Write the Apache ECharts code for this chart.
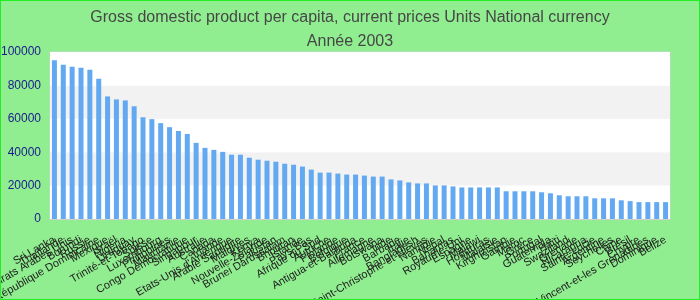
<!DOCTYPE html>
<html>
<head>
<meta charset="utf-8">
<script src="https://cdn.jsdelivr.net/npm/echarts@6/dist/echarts.min.js"></script>
<style>
html,body{margin:0;padding:0;background:#90ee90;}
#chart{width:700px;height:300px;box-sizing:border-box;border:1px solid #22ee22;}
</style>
</head>
<body>
<div id="chart"></div>
<script>
const titleText = "Gross domestic product per capita, current prices Units National currency";
const subTitleText = "Année 2003";
const categories = [
  "Sri Lanka","Thaïlande","Emirats Arabes Unis","Burundi","Russie","République Dominicaine","Mexique","Israël","Nigeria","Uruguay",
  "Trinité-et-Tobago","Suisse","Luxembourg","Philippines","Mauritanie","Congo Démocratique","Singapour","Australie","Canada","Irlande",
  "Etats-Unis d'Amérique","Arabie Saoudite","Maldives","Kenya","Nouvelle-Zélande","Pakistan","Brunei Darussalam","Bhoutan","Islande","Pays-Bas",
  "Afrique du Sud","Autriche","Finlande","Belgique","Antigua-et-Barbuda","France","Allemagne","Botswana","Inde","Barbade",
  "Italie","Bangladesh","Saint-Christophe-et-Niévès","Namibie","Népal","Bahamas","Royaume-Uni","Espagne","Malawi","Honduras",
  "Malaisie","Kirghizistan","Gambie","Maroc","Grèce","Portugal","Guatemala","Haïti","Swaziland","Grenade",
  "Nicaragua","Sainte-Lucie","Argentine","Seychelles","Chine","Brésil","Chypre","Saint-Vincent-et-les Grenadines","Dominique","Belize"
];
const gdpValues = [
  95000,92300,91100,90500,89300,84000,73400,71600,71000,67500,
  60900,59800,57400,55000,52700,50900,45600,42600,41400,40200,
  38500,38500,36700,35500,34900,34300,33100,32500,31400,29600,
  27800,27800,27200,26600,26600,26000,25400,25400,23700,23100,
  21900,21300,21300,20100,20100,19500,18900,18900,18900,18900,
  18900,16600,16600,16600,16600,16000,15400,14200,13600,13600,
  13600,12400,12400,12400,11200,10700,10100,10100,10100,10100
];
const yTicks = [0,20000,40000,60000,80000,100000];

const chart = echarts.init(document.getElementById('chart'), null, {renderer:'canvas'});
chart.setOption({
  animation:false,
  backgroundColor:'#90ee90',
  title:{
    text: titleText + "\n" + subTitleText,
    left:'center', top:0,
    textStyle:{fontFamily:'Liberation Sans, Arial, sans-serif',fontSize:16,fontWeight:'normal',color:'#464646',lineHeight:24}
  },
  grid:{left:49,right:29,top:51,bottom:80,show:true,backgroundColor:'#ffffff',borderColor:'#d0d0d0',borderWidth:1,containLabel:false,outerBoundsMode:'none'},
  xAxis:{
    type:'category',data:categories,
    axisTick:{show:false},
    axisLine:{show:true,lineStyle:{color:'#d0d0d0'}},
    axisLabel:{interval:0,rotate:30,margin:20,fontSize:11,color:'#222',fontFamily:'Liberation Sans, Arial, sans-serif'}
  },
  yAxis:{
    type:'value',min:yTicks[0],max:yTicks[yTicks.length-1],interval:yTicks[1]-yTicks[0],
    axisLine:{show:false},axisTick:{show:false},
    splitLine:{show:false},
    splitArea:{show:true,areaStyle:{color:['#ffffff','#f2f2f2']}},
    axisLabel:{fontSize:12,color:'#1a1a8c',margin:9,fontFamily:'Liberation Sans, Arial, sans-serif',formatter:function(v){return String(v);}}
  },
  series:[{type:'bar',data:gdpValues,barWidth:5,itemStyle:{color:'#62a9f2'}}]
});
</script>
</body>
</html>
